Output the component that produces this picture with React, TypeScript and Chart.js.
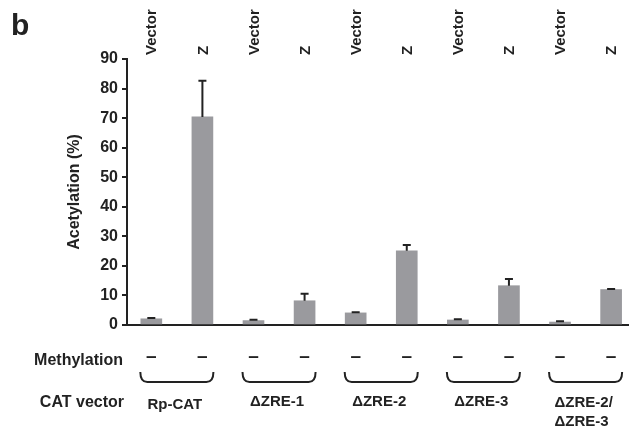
import React, { useEffect, useRef } from "react";
import { Chart, registerables } from "chart.js";

Chart.register(...registerables);

const conditionLabels = ["Vector", "Z", "Vector", "Z", "Vector", "Z", "Vector", "Z", "Vector", "Z"];
const acetylation = [2.1, 70.4, 1.5, 8.2, 4.1, 25.1, 1.7, 13.3, 1.0, 12.0];
const errorUp = [0.3, 12.2, 0.25, 2.4, 0.25, 2.0, 0.25, 2.3, 0.3, 0.2];
const methylation = ["–", "–", "–", "–", "–", "–", "–", "–", "–", "–"];
const catVectors = [["Rp-CAT"], ["ΔZRE-1"], ["ΔZRE-2"], ["ΔZRE-3"], ["ΔZRE-2/", "ΔZRE-3"]];
const yMin = 0;
const yMax = 90;
const yStep = 10;
const panelLabel = "b";
const yTitle = "Acetylation (%)";
const rowLabels = ["Methylation", "CAT vector"];

const FONT = '"Liberation Sans", Arial, Helvetica, sans-serif';
const INK = "#222222";

const annotate = {
  id: "annotate",
  afterDatasetsDraw(chart: any) {
    const ctx = chart.ctx;
    const x = chart.scales.x;
    const y = chart.scales.y;
    ctx.save();
    ctx.strokeStyle = INK;
    ctx.lineWidth = 2;
    acetylation.forEach((v, i) => {
      const px = x.getPixelForValue(i);
      const top = y.getPixelForValue(v);
      const end = y.getPixelForValue(v + errorUp[i]);
      ctx.beginPath();
      ctx.moveTo(px, top);
      ctx.lineTo(px, end);
      ctx.moveTo(px - 4, end);
      ctx.lineTo(px + 4, end);
      ctx.stroke();
    });
    ctx.restore();
  },
  afterDraw(chart: any) {
    const ctx = chart.ctx;
    const x = chart.scales.x;
    const area = chart.chartArea;
    ctx.save();
    ctx.fillStyle = INK;
    ctx.strokeStyle = INK;

    // panel letter
    ctx.font = `bold 30px ${FONT}`;
    ctx.textAlign = "left";
    ctx.textBaseline = "alphabetic";
    ctx.fillText(panelLabel, 11, 35);

    // y title
    ctx.save();
    ctx.translate(75, (area.top + area.bottom) / 2);
    ctx.rotate(-Math.PI / 2);
    ctx.font = `bold 16px ${FONT}`;
    ctx.textAlign = "center";
    ctx.textBaseline = "middle";
    ctx.fillText(yTitle, 0, 0);
    ctx.restore();

    // top condition labels
    ctx.font = `bold 15px ${FONT}`;
    conditionLabels.forEach((lab, i) => {
      const px = x.getPixelForValue(i);
      ctx.save();
      ctx.translate(px + 1, 55);
      ctx.rotate(-Math.PI / 2);
      ctx.textAlign = "left";
      ctx.textBaseline = "middle";
      ctx.fillText(lab, 0, 0);
      ctx.restore();
    });

    // row labels
    ctx.font = `bold 16px ${FONT}`;
    ctx.textAlign = "right";
    ctx.textBaseline = "middle";
    ctx.fillText(rowLabels[0], 123, 361);
    ctx.fillText(rowLabels[1], 124, 403);

    // methylation dashes
    ctx.font = `bold 19px ${FONT}`;
    ctx.textAlign = "center";
    methylation.forEach((m, i) => {
      ctx.fillText(m, x.getPixelForValue(i), 357);
    });

    // braces
    ctx.lineWidth = 2;
    catVectors.forEach((_, g) => {
      const l = x.getPixelForValue(g * 2) - 11;
      const r = x.getPixelForValue(g * 2 + 1) + 11;
      ctx.beginPath();
      ctx.moveTo(l, 372);
      ctx.quadraticCurveTo(l, 382, l + 7, 382);
      ctx.lineTo(r - 7, 382);
      ctx.quadraticCurveTo(r, 382, r, 372);
      ctx.stroke();
    });

    // CAT vector labels
    ctx.font = `bold 15px ${FONT}`;
    catVectors.forEach((lines, g) => {
      const c = (x.getPixelForValue(g * 2) + x.getPixelForValue(g * 2 + 1)) / 2;
      if (lines.length === 1) {
        ctx.textAlign = "center";
        ctx.fillText(lines[0], c - 2, g === 0 ? 405 : 402);
      } else {
        ctx.textAlign = "left";
        lines.forEach((ln, k) => ctx.fillText(ln, c - 31, 403 + k * 19));
      }
    });
    ctx.restore();
  },
};

export default function App() {
  const ref = useRef<HTMLCanvasElement>(null);
  useEffect(() => {
    if (!ref.current) return;
    const chart = new Chart(ref.current, {
      type: "bar",
      data: {
        datasets: [
          {
            data: acetylation.map((v, i) => ({ x: i, y: v })),
            backgroundColor: "#9a9a9e",
            borderWidth: 0,
            barThickness: 21,
          },
        ],
      },
      options: {
        responsive: false,
        animation: false,
        maintainAspectRatio: false,
        layout: { padding: { top: 59, left: 0, right: 0, bottom: 0 } },
        plugins: { legend: { display: false }, tooltip: { enabled: false } },
        scales: {
          x: {
            type: "linear",
            offset: false,
            min: -0.476,
            max: 9.35,
            ticks: { display: false },
            grid: { display: false, offset: false },
            border: { display: true, color: INK, width: 2 },
            afterFit: (s: any) => {
              s.height = 105;
            },
          },
          y: {
            min: yMin,
            max: yMax,
            ticks: {
              stepSize: yStep,
              color: INK,
              padding: 4,
              font: { family: FONT, size: 16, weight: "bold" },
            },
            grid: {
              display: true,
              drawOnChartArea: false,
              drawTicks: true,
              tickLength: 5,
              color: INK,
              lineWidth: 2,
            },
            border: { display: true, color: INK, width: 2 },
            afterFit: (s: any) => {
              s.width = 127;
            },
          },
        },
      },
      plugins: [annotate],
    });
    return () => chart.destroy();
  }, []);
  return (
    <div style={{ position: "absolute", left: 0, top: 0, width: 629, height: 430, background: "#fff" }}>
      <canvas ref={ref} width={629} height={430} style={{ width: 629, height: 430 }} />
    </div>
  );
}
